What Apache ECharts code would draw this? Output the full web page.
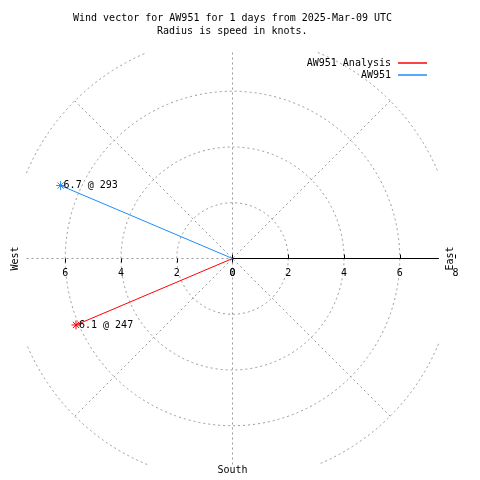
<!DOCTYPE html>
<html><head><meta charset="utf-8">
<script src="https://cdn.jsdelivr.net/npm/echarts@6/dist/echarts.min.js"></script>
<style>html,body{margin:0;padding:0;background:#fff}#c{width:480px;height:480px}</style>
</head><body><div id="c"></div>
<script>
// ---- data ----
const titleLine1 = 'Wind vector for AW951 for 1 days from 2025-Mar-09 UTC';
const titleLine2 = 'Radius is speed in knots.';
const seriesNames = ['AW951 Analysis', 'AW951'];
const seriesColors = ['#ff0000', '#1e8cff'];
const speeds = [6.1, 6.7];       // knots
const directions = [247, 293];   // degrees (compass)
const radiusMax = 8;
const radiusStep = 2;
const compassWest = 'West', compassEast = 'East', compassSouth = 'South';

// ---- layout / style ----
const FONT = 'DejaVu Sans Mono';
const CX = 232.5, CY = 258.5, R = 223, RAXIS = 206;
const GRID = '#999999';
const DASH = [2, 3];
const ASTER = 'path://M0,4L8,4M4,0L4,8M1.2,1.2L6.8,6.8M6.8,1.2L1.2,6.8';
const toAxis = a => (a < 90 ? a + 360 : a);

const hiddenAngle = (i, extra) => Object.assign({polarIndex: i, type: 'value', axisLine: {show: false}, axisTick: {show: false}, axisLabel: {show: false}, splitLine: {show: false}}, extra || {});
const hiddenRadius = (i, extra) => Object.assign({polarIndex: i, type: 'value', axisLine: {show: false}, axisTick: {show: false}, axisLabel: {show: false}, splitLine: {show: false}}, extra || {});

const center = [CX, CY];
const polar = [
  {center, radius: R},                 // 0 main (data, east ticks/labels)
  {center, radius: R * 6 / radiusMax}, // 1 rings
  {center, radius: RAXIS},             // 2 cross spokes + east axis line
  {center, radius: R},                 // 3 diagonals
  {center, radius: R}                  // 4 west ticks/labels
];
const labelStyle = {fontFamily: FONT, fontSize: 10, color: '#000'};
const angleAxis = [
  hiddenAngle(0, {min: 90, max: 450, startAngle: 0, clockwise: true}),
  hiddenAngle(1),
  hiddenAngle(2, {min: 90, max: 450, startAngle: 0, clockwise: true, interval: 90,
    splitLine: {show: true, lineStyle: {color: GRID, type: DASH, width: 1}}}),
  hiddenAngle(3, {min: 45, max: 405, startAngle: 45, clockwise: true, interval: 90,
    splitLine: {show: true, lineStyle: {color: GRID, type: DASH, width: 1}}}),
  hiddenAngle(4, {startAngle: 180})
];
const radiusAxis = [
  hiddenRadius(0, {min: 0, max: radiusMax, interval: radiusStep, z: 6,
    axisTick: {show: true, length: 4, lineStyle: {color: '#000'}},
    axisLabel: Object.assign({show: true, margin: -20}, labelStyle)}),
  hiddenRadius(1, {min: 0, max: 6, interval: radiusStep,
    splitLine: {show: true, lineStyle: {color: GRID, type: DASH, width: 1}}}),
  hiddenRadius(2, {min: 0, max: radiusMax * RAXIS / R, z: 5,
    axisLine: {show: true, lineStyle: {color: '#000', width: 1}}}),
  hiddenRadius(3, {min: 0, max: radiusMax}),
  hiddenRadius(4, {min: 0, max: radiusMax, interval: radiusStep, z: 6,
    axisTick: {show: true, length: 4, lineStyle: {color: '#000'}},
    axisLabel: Object.assign({show: true, margin: 10, showMaxLabel: false}, labelStyle)})
];

const series = seriesNames.map((name, i) => ({
  name, type: 'line', coordinateSystem: 'polar', polarIndex: 0,
  color: seriesColors[i],
  lineStyle: {color: seriesColors[i], width: 1},
  itemStyle: {color: seriesColors[i], borderColor: seriesColors[i], borderWidth: 1},
  showSymbol: true, z: 10,
  data: [
    {value: [0, toAxis(directions[i])], symbol: 'none'},
    {value: [speeds[i], toAxis(directions[i])], symbol: ASTER, symbolSize: 9,
     label: Object.assign({show: true, position: 'right', distance: -2,
       formatter: speeds[i].toFixed(1) + ' @ ' + directions[i]}, labelStyle)}
  ]
}));

const arcs = [[22.5, 67.5], [112.5, 157.5], [202.5, 247.5], [292.5, 337.5]].map(a => ({
  type: 'arc', silent: true,
  shape: {cx: CX, cy: CY, r: R, startAngle: a[0] * Math.PI / 180, endAngle: a[1] * Math.PI / 180, clockwise: true},
  style: {stroke: GRID, fill: null, lineDash: DASH, lineWidth: 1}
}));
const txt = (text, x, y, rot) => ({type: 'text', x, y, rotation: rot || 0,
  style: {text, fill: '#000', font: '10px "' + FONT + '"', textAlign: 'center', textVerticalAlign: 'middle'}});

const chart = echarts.init(document.getElementById('c'), null, {renderer: 'canvas'});
chart.setOption({
  animation: false,
  backgroundColor: '#fff',
  title: [
    {text: titleLine1, left: 73, top: 13, padding: 0, textStyle: {fontFamily: FONT, fontSize: 10, fontWeight: 'normal', color: '#000'}},
    {text: titleLine2, left: 157, top: 26, padding: 0, textStyle: {fontFamily: FONT, fontSize: 10, fontWeight: 'normal', color: '#000'}}
  ],
  legend: {
    orient: 'vertical', right: 53, top: 57, align: 'right', icon: 'rect',
    itemWidth: 29, itemHeight: 1.5, itemGap: 0, padding: 0,
    itemStyle: {borderWidth: 0},
    textStyle: {fontFamily: FONT, fontSize: 10, color: '#000', lineHeight: 12, padding: [0, 2, 0, 0]},
    data: seriesNames
  },
  polar, angleAxis, radiusAxis, series,
  graphic: arcs.concat([
    txt(compassWest, 15, CY, Math.PI / 2),
    txt(compassEast, 450, CY, Math.PI / 2),
    txt(compassSouth, CX, 470)
  ])
});
</script></body></html>
